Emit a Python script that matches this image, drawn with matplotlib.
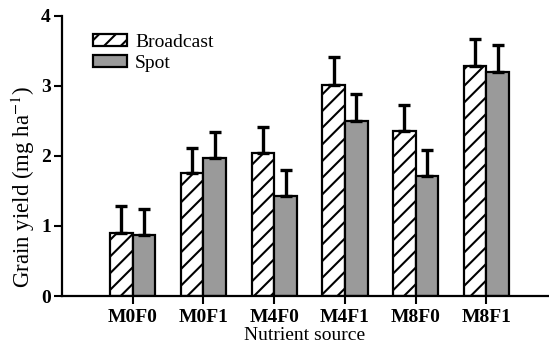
import numpy as np
import matplotlib
matplotlib.use("Agg")
import matplotlib.pyplot as plt

plt.rcParams['font.family'] = ['Liberation Serif', 'DejaVu Serif']
plt.rcParams['mathtext.fontset'] = 'stix'
plt.rcParams['hatch.linewidth'] = 1.5

sources = ["M0F0", "M0F1", "M4F0", "M4F1", "M8F0", "M8F1"]
broadcast = [0.90, 1.75, 2.04, 3.02, 2.36, 3.29]
broadcast_err = [0.38, 0.37, 0.38, 0.39, 0.37, 0.38]
spot = [0.87, 1.97, 1.43, 2.50, 1.71, 3.20]
spot_err = [0.37, 0.37, 0.37, 0.39, 0.37, 0.38]

fig = plt.figure(figsize=(5.49, 3.45), dpi=100)
ax = fig.add_axes([0.113, 0.142, 0.885, 0.812])

x = np.arange(len(sources))
w = 0.32
errkw = dict(ecolor='black', elinewidth=2.4, capsize=4, capthick=2.4)
ax.bar(x - w / 2, broadcast, w, yerr=[np.zeros(len(x)), broadcast_err],
       color='white', edgecolor='black', linewidth=1.6, hatch='//',
       error_kw=errkw, label='Broadcast')
ax.bar(x + w / 2, spot, w, yerr=[np.zeros(len(x)), spot_err],
       color='#9a9a9a', edgecolor='black', linewidth=1.6,
       error_kw=errkw, label='Spot')

ax.set_xlim(-1.0, 5.87)
ax.set_ylim(0, 4)
ax.set_yticks([0, 1, 2, 3, 4])
ax.set_xticks(x)
ax.set_xticklabels(sources)
for lab in ax.get_xticklabels() + ax.get_yticklabels():
    lab.set_fontweight('bold')
    lab.set_fontsize(14)
ax.tick_params(axis='x', length=6, width=1.5, pad=3)
ax.tick_params(axis='y', length=6, width=1.5, pad=2)

for s in ['top', 'right']:
    ax.spines[s].set_visible(False)
for s in ['left', 'bottom']:
    ax.spines[s].set_linewidth(1.6)

ax.set_xlabel("Nutrient source", fontsize=14, labelpad=1)
ax.set_ylabel(r"Grain yield (mg ha$^{-1}$)", fontsize=16.5)
ax.yaxis.set_label_coords(-0.052, 0.39)

ax.legend(loc='upper left', bbox_to_anchor=(0.064, 0.935), frameon=False,
          fontsize=14, handlelength=1.75, handleheight=0.6,
          handletextpad=0.4, labelspacing=0.2, borderpad=0, borderaxespad=0)

fig.savefig("out.png", dpi=100)
